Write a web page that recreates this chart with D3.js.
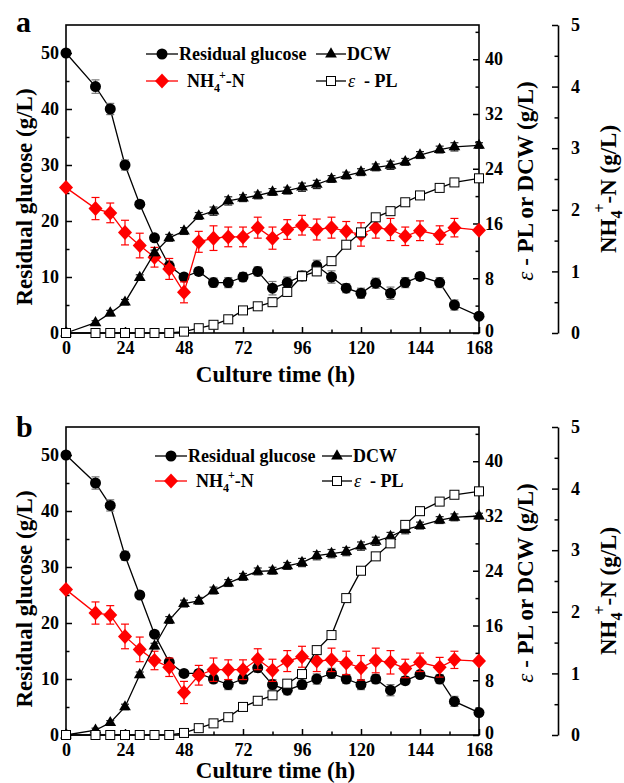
<!DOCTYPE html>
<html>
<head>
<meta charset="utf-8">
<script src="https://cdn.jsdelivr.net/npm/d3@7"></script>
<style>
  body { margin: 0; background: #fff; }
  svg { font-family: "Liberation Serif", "Times New Roman", serif; font-weight: bold; }
</style>
</head>
<body>
<div id="chart"></div>
<script>
// sampling times (h)
var times = [0, 12, 18, 24, 30, 36, 42, 48, 54, 60, 66, 72, 78, 84, 90, 96, 102, 108, 114, 120, 126, 132, 138, 144, 152, 158, 168];

// panel a
var glucoseA = [50, 44, 40, 30, 23, 17, 12, 10, 11, 9, 9, 10, 11, 8, 9, 10.2, 12, 10, 8, 7.1, 8.9, 7.1, 9, 10.1, 9, 5, 3];
var glucoseErrA = [0, 1.2, 1.0, 0.9, 0, 0.6, 0.8, 0.6, 0.7, 0.8, 0.9, 0.8, 0.8, 1.2, 1.0, 0.9, 1.0, 1.1, 0.8, 0.9, 0.9, 1.1, 0.9, 0.7, 0.9, 0.9, 0.5];
var nh4A = [2.36, 2.02, 1.95, 1.63, 1.42, 1.23, 1.04, 0.66, 1.48, 1.54, 1.56, 1.56, 1.71, 1.54, 1.68, 1.75, 1.68, 1.71, 1.65, 1.6, 1.71, 1.68, 1.57, 1.66, 1.59, 1.71, 1.67];
var nh4ErrA = [0, 0.18, 0.16, 0.2, 0.2, 0.16, 0.17, 0.17, 0.17, 0.2, 0.16, 0.16, 0.17, 0.18, 0.16, 0.16, 0.17, 0.17, 0.16, 0.19, 0.17, 0.18, 0.15, 0.16, 0.15, 0.15, 0];
var dcwA = [0, 1.5, 2.9, 4.5, 8.1, 11.7, 13.9, 14.9, 17.1, 17.8, 19.3, 19.7, 20.1, 20.6, 20.8, 21.3, 21.7, 22.5, 23.0, 23.5, 24.2, 24.5, 25.0, 26.0, 26.8, 27.2, 27.4];
var dcwErrA = [0, 0.3, 0.4, 0.4, 0.4, 0.4, 0.5, 0.5, 0.5, 0.6, 0.6, 0.5, 0.5, 0.5, 0.5, 0.6, 0.6, 0.5, 0.5, 0.5, 0.5, 0.6, 0.5, 0.5, 0.5, 0.6, 0.4];
var plA = [0, 0, 0, 0, 0, 0, 0, 0.2, 0.7, 1.2, 2.0, 3.3, 3.9, 4.5, 6.0, 8.3, 9.0, 10.5, 12.9, 14.7, 16.9, 17.8, 19.1, 20.1, 21.2, 22.0, 22.6];
var plErrA = [0, 0, 0, 0, 0, 0, 0, 0.3, 0.3, 0.3, 0.3, 0.3, 0.4, 0.6, 0.6, 0.5, 0.6, 0.5, 0.5, 0.4, 0.4, 0.4, 0.4, 0.3, 0.4, 0.5, 0.4];

// panel b
var glucoseB = [50, 45, 41, 32, 25, 18, 13, 11, 11, 10, 9, 10, 12, 9, 8, 9, 10, 11, 10, 9, 10, 8, 9.7, 10.8, 10, 6, 4];
var glucoseErrB = [0, 1.1, 1.0, 0.8, 0.5, 0.5, 0.6, 0.5, 0.6, 0.7, 0.9, 0.8, 0.8, 0.9, 0.8, 0.8, 0.9, 0.9, 0.8, 0.9, 0.8, 1.0, 0.7, 0.6, 0.8, 0.9, 0.5];
var nh4B = [2.36, 1.98, 1.95, 1.6, 1.39, 1.21, 1.1, 0.69, 0.97, 1.06, 1.06, 1.06, 1.23, 1.05, 1.2, 1.27, 1.2, 1.22, 1.17, 1.09, 1.21, 1.18, 1.08, 1.18, 1.1, 1.22, 1.2];
var nh4ErrB = [0, 0.18, 0.15, 0.2, 0.2, 0.15, 0.15, 0.18, 0.16, 0.19, 0.16, 0.16, 0.17, 0.18, 0.17, 0.17, 0.17, 0.19, 0.19, 0.2, 0.2, 0.19, 0.15, 0.15, 0.16, 0.14, 0];
var dcwB = [0, 0.7, 1.8, 4.1, 8.8, 13.0, 16.8, 19.2, 19.6, 21.1, 22.2, 23.1, 23.9, 24.0, 24.7, 25.2, 26.2, 26.5, 26.8, 27.6, 28.3, 29.0, 30.0, 30.6, 31.4, 31.8, 32.0];
var dcwErrB = [0, 0.3, 0.3, 0.4, 0.4, 0.4, 0.5, 0.5, 0.5, 0.5, 0.5, 0.5, 0.5, 0.5, 0.5, 0.6, 0.6, 0.6, 0.6, 0.6, 0.6, 0.6, 0.6, 0.5, 0.5, 0.5, 0.4];
var plB = [0, 0, 0, 0, 0, 0, 0, 0.3, 1.0, 1.7, 2.6, 4.1, 5.0, 5.8, 7.5, 8.9, 12.4, 14.6, 20.0, 24.0, 26.1, 28.0, 30.7, 32.7, 34.1, 35.1, 35.6];
var plErrB = [0, 0, 0, 0, 0, 0, 0, 0.3, 0.3, 0.3, 0.3, 0.3, 0.3, 0.3, 0.4, 0.4, 0.4, 0.4, 0.5, 0.5, 0.5, 0.5, 0.6, 0.6, 0.5, 0.5, 0.4];

// tick values
var xMajor = [0, 24, 48, 72, 96, 120, 144, 168];
var xMinor = [12, 36, 60, 84, 108, 132, 156];
var glucoseTicks = [0, 10, 20, 30, 40, 50];
var glucoseMinor = [5, 15, 25, 35, 45];
var rightTicks = [0, 8, 16, 24, 32, 40];
var rightMinor = [4, 12, 20, 28, 36, 44];
var nh4Ticks = [0, 1, 2, 3, 4, 5];
var nh4Minor = [0.5, 1.5, 2.5, 3.5, 4.5];

var width = 624, height = 783;
var plotLeft = 66, plotRight = 479, plotH = 308, nAxisX = 558;

var svg = d3.select('#chart').append('svg')
  .attr('width', width).attr('height', height);
svg.append('rect').attr('width', width).attr('height', height).attr('fill', '#fff');

var RED = '#ff0000';

function diamondPath(cx, cy, w, h) {
  return 'M' + cx + ',' + (cy - h) + 'L' + (cx + w) + ',' + cy + 'L' + cx + ',' + (cy + h) + 'L' + (cx - w) + ',' + cy + 'Z';
}

function styleAxis(sel, fontSize) {
  sel.selectAll('text').style('font-size', fontSize).attr('fill', '#000')
    .style('font-family', '"Liberation Serif", serif').style('font-weight', 'bold');
  sel.selectAll('line').attr('stroke', '#000').attr('stroke-width', 1.5);
}

function drawPanel(p) {
  var top = p.top, bottom = top + plotH;
  var g = svg.append('g');

  var x = d3.scaleLinear().domain([0, 168]).range([plotLeft, plotRight]);
  var yL = d3.scaleLinear().domain([0, 55]).range([bottom, top]);
  var yR = d3.scaleLinear().domain([0, 45]).range([bottom, top]);
  var yN = d3.scaleLinear().domain([0, 5]).range([bottom, top]);

  // left axis
  var ax = g.append('g').attr('transform', 'translate(' + plotLeft + ',0)')
    .call(d3.axisLeft(yL).tickValues(glucoseTicks).tickSize(-6).tickSizeOuter(0).tickPadding(7));
  ax.select('.domain').remove(); styleAxis(ax, '18px');
  ax = g.append('g').attr('transform', 'translate(' + plotLeft + ',0)')
    .call(d3.axisLeft(yL).tickValues(glucoseMinor).tickSize(-3.5).tickFormat(''));
  ax.select('.domain').remove(); styleAxis(ax, '18px');

  // right axis (e-PL / DCW)
  ax = g.append('g').attr('transform', 'translate(' + plotRight + ',0)')
    .call(d3.axisRight(yR).tickValues(rightTicks).tickSize(-6).tickSizeOuter(0).tickPadding(6));
  ax.select('.domain').remove(); styleAxis(ax, '18px');
  ax.selectAll('.tick').filter(function(d) { return d === 0; }).select('text').attr('dy', '0.2em');
  ax = g.append('g').attr('transform', 'translate(' + plotRight + ',0)')
    .call(d3.axisRight(yR).tickValues(rightMinor).tickSize(-3.5).tickFormat(''));
  ax.select('.domain').remove(); styleAxis(ax, '18px');

  // bottom axis
  ax = g.append('g').attr('transform', 'translate(0,' + bottom + ')')
    .call(d3.axisBottom(x).tickValues(xMajor).tickSize(-6).tickSizeOuter(0).tickPadding(8));
  ax.select('.domain').remove(); styleAxis(ax, '18px');
  ax = g.append('g').attr('transform', 'translate(0,' + bottom + ')')
    .call(d3.axisBottom(x).tickValues(xMinor).tickSize(-3.5).tickFormat(''));
  ax.select('.domain').remove(); styleAxis(ax, '18px');

  // NH4 axis, offset
  ax = g.append('g').attr('transform', 'translate(' + nAxisX + ',0)')
    .call(d3.axisRight(yN).tickValues(nh4Ticks).tickFormat(d3.format('d')).tickSize(-6).tickSizeOuter(0).tickPadding(13));
  ax.select('.domain').attr('stroke', '#000').attr('stroke-width', 1.6);
  styleAxis(ax, '18px');
  ax = g.append('g').attr('transform', 'translate(' + nAxisX + ',0)')
    .call(d3.axisRight(yN).tickValues(nh4Minor).tickSize(-3.5).tickFormat(''));
  ax.select('.domain').remove(); styleAxis(ax, '18px');

  // plot box
  g.append('rect').attr('x', plotLeft).attr('y', top)
    .attr('width', plotRight - plotLeft).attr('height', plotH)
    .attr('fill', 'none').attr('stroke', '#000').attr('stroke-width', 1.6);

  // series
  function series(vals, errs, y, color, errColor) {
    var pts = times.map(function(t, i) { return { t: t, v: vals[i], e: errs[i] }; });
    var line = d3.line().x(function(d) { return x(d.t); }).y(function(d) { return y(d.v); });
    g.append('path').datum(pts).attr('d', line).attr('fill', 'none')
      .attr('stroke', color).attr('stroke-width', 1.3);
    var eb = g.append('g').attr('stroke', errColor).attr('stroke-width', 1.2);
    pts.filter(function(d) { return d.e > 0; }).forEach(function(d) {
      var cx = x(d.t), y1 = y(d.v - d.e), y2 = y(d.v + d.e);
      eb.append('line').attr('x1', cx).attr('x2', cx).attr('y1', y1).attr('y2', y2);
      eb.append('line').attr('x1', cx - 4).attr('x2', cx + 4).attr('y1', y1).attr('y2', y1);
      eb.append('line').attr('x1', cx - 4).attr('x2', cx + 4).attr('y1', y2).attr('y2', y2);
    });
    return pts;
  }

  var gPts = series(p.glucose, p.glucoseErr, yL, '#000', '#777');
  g.selectAll(null).data(gPts).enter().append('circle')
    .attr('cx', function(d) { return x(d.t); }).attr('cy', function(d) { return yL(d.v); })
    .attr('r', 5.5).attr('fill', '#000');

  var nPts = series(p.nh4, p.nh4Err, yN, RED, RED);
  g.selectAll(null).data(nPts).enter().append('path')
    .attr('d', function(d) { return diamondPath(x(d.t), yN(d.v), 7, 7.5); })
    .attr('fill', RED);

  var dPts = series(p.dcw, p.dcwErr, yR, '#000', '#222');
  g.selectAll(null).data(dPts).enter().append('path')
    .attr('transform', function(d) { return 'translate(' + x(d.t) + ',' + yR(d.v) + ')'; })
    .attr('d', d3.symbol().type(d3.symbolTriangle).size(60)).attr('fill', '#000');

  var pPts = series(p.pl, p.plErr, yR, '#000', '#777');
  g.selectAll(null).data(pPts).enter().append('rect')
    .attr('x', function(d) { return x(d.t) - 4.5; }).attr('y', function(d) { return yR(d.v) - 4.5; })
    .attr('width', 9).attr('height', 9).attr('fill', '#fff').attr('stroke', '#000').attr('stroke-width', 1);

  // legend
  var L = p.legend;
  var lg = g.append('g').style('font-size', '18px');
  // glucose
  lg.append('line').attr('x1', L.x1).attr('x2', L.x1 + 32).attr('y1', L.y1).attr('y2', L.y1).attr('stroke', '#000').attr('stroke-width', 1.3);
  lg.append('circle').attr('cx', L.x1 + 16).attr('cy', L.y1).attr('r', 5.5).attr('fill', '#000');
  lg.append('text').attr('x', L.x1 + 33).attr('y', L.y1 + 6).text('Residual glucose');
  // NH4
  lg.append('line').attr('x1', L.x1).attr('x2', L.x1 + 32).attr('y1', L.y2).attr('y2', L.y2).attr('stroke', RED).attr('stroke-width', 1.3);
  lg.append('path').attr('d', diamondPath(L.x1 + 16, L.y2, 7, 7.5)).attr('fill', RED);
  var nt = lg.append('text').attr('x', L.x1 + 41).attr('y', L.y2 + 6);
  nt.append('tspan').text('NH');
  nt.append('tspan').text('4').attr('dy', 5).style('font-size', '12px');
  nt.append('tspan').text('+').attr('dx', -1).attr('dy', -13).style('font-size', '12px');
  nt.append('tspan').text('-N').attr('dy', 8);
  // DCW
  lg.append('line').attr('x1', L.x2).attr('x2', L.x2 + 30).attr('y1', L.y1).attr('y2', L.y1).attr('stroke', '#000').attr('stroke-width', 1.3);
  lg.append('path').attr('transform', 'translate(' + (L.x2 + 15) + ',' + L.y1 + ')')
    .attr('d', d3.symbol().type(d3.symbolTriangle).size(60)).attr('fill', '#000');
  lg.append('text').attr('x', L.x2 + 31).attr('y', L.y1 + 6).text('DCW');
  // e-PL
  lg.append('line').attr('x1', L.x2).attr('x2', L.x2 + 30).attr('y1', L.y2).attr('y2', L.y2).attr('stroke', '#000').attr('stroke-width', 1.3);
  lg.append('rect').attr('x', L.x2 + 10.5).attr('y', L.y2 - 4.5).attr('width', 9).attr('height', 9)
    .attr('fill', '#fff').attr('stroke', '#000');
  var et = lg.append('text').attr('x', L.x2 + 32).attr('y', L.y2 + 6);
  et.append('tspan').text('\u03b5').style('font-style', 'italic').style('font-weight', 'normal');
  et.append('tspan').text('  - PL').attr('xml:space', 'preserve').style('white-space', 'pre');

  // axis titles
  g.append('text').attr('transform', 'translate(32,' + (top + 172) + ') rotate(-90)')
    .attr('text-anchor', 'middle').style('font-size', '23px').text('Residual glucose (g/L)');

  var rt = g.append('text').attr('transform', 'translate(533,' + (top + 156) + ') rotate(-90)')
    .attr('text-anchor', 'middle').style('font-size', '23px').style('white-space', 'pre');
  rt.append('tspan').text('\u03b5').style('font-style', 'italic').style('font-weight', 'normal');
  rt.append('tspan').text(' - PL or DCW (g/L)');

  var ntt = g.append('text').attr('transform', 'translate(616,' + (top + 164) + ') rotate(-90)')
    .attr('text-anchor', 'middle').style('font-size', '23px');
  ntt.append('tspan').text('NH');
  ntt.append('tspan').text('4').attr('dy', 6).style('font-size', '16px');
  ntt.append('tspan').text('+').attr('dx', -2).attr('dy', -17).style('font-size', '16px');
  ntt.append('tspan').text('-N (g/L)').attr('dy', 11);

  g.append('text').attr('x', (plotLeft + plotRight) / 2 + 3).attr('y', bottom + p.xTitleDy)
    .attr('text-anchor', 'middle').style('font-size', '23px').text('Culture time (h)');

  g.append('text').attr('x', 16).attr('y', top + p.labelDy).style('font-size', '30px').text(p.label);
}

drawPanel({
  top: 25, label: 'a', labelDy: 7, xTitleDy: 49,
  glucose: glucoseA, glucoseErr: glucoseErrA, nh4: nh4A, nh4Err: nh4ErrA,
  dcw: dcwA, dcwErr: dcwErrA, pl: plA, plErr: plErrA,
  legend: { x1: 146, x2: 316, y1: 54, y2: 81 }
});

drawPanel({
  top: 427, label: 'b', labelDy: 10, xTitleDy: 43,
  glucose: glucoseB, glucoseErr: glucoseErrB, nh4: nh4B, nh4Err: nh4ErrB,
  dcw: dcwB, dcwErr: dcwErrB, pl: plB, plErr: plErrB,
  legend: { x1: 155, x2: 322, y1: 456, y2: 481 }
});
</script>
</body>
</html>
